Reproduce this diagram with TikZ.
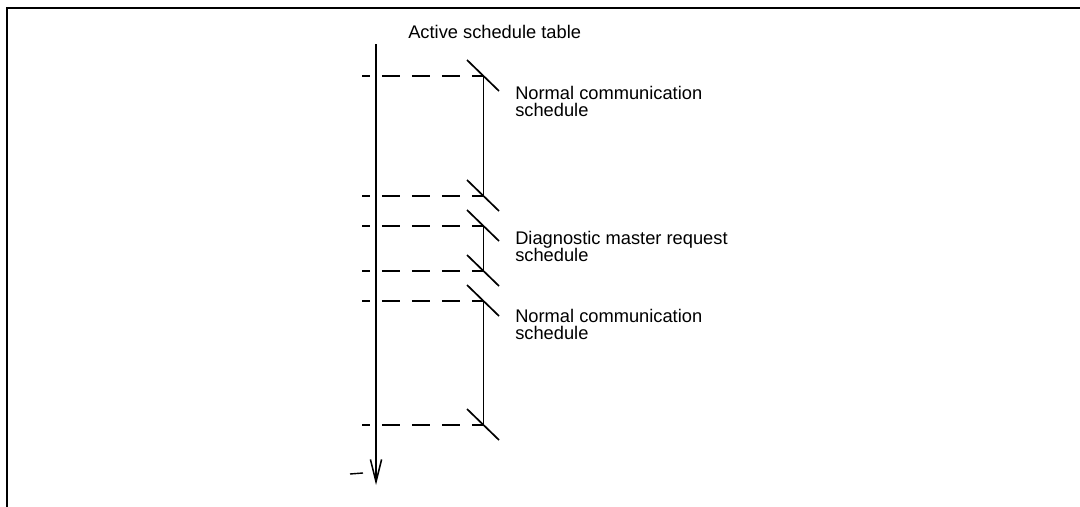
\documentclass[tikz,border=0pt]{standalone}
\usepackage{fontspec}
\setmainfont{Liberation Sans}
\usetikzlibrary{arrows.meta}

\begin{document}
\begin{tikzpicture}[x=0.025cm,y=-0.025cm,
  lbl/.style={align=left,inner sep=0pt,anchor=north west,font=\fontsize{13}{12.2}\selectfont},
  guide/.style={line width=1pt,dash pattern=on 12.8pt off 8.5pt,dash phase=7.1pt},
  slash/.style={line width=1.2pt}]
  \useasboundingbox (0,0) rectangle (1080,507);

  % frame
  \coordinate (fl) at (7,507);
  \coordinate (fc) at (7,8);
  \coordinate (fr) at (1080,8);
  \draw[line width=1.3pt] (fl)--(fc)--(fr);

  % time axis
  \coordinate (top) at (376,44);
  \coordinate (tip) at (376,485);
  \draw[line width=1.1pt,-{Straight Barb[length=0.56cm,width=0.28cm]}] (top)--(tip);
  \node[lbl] (title) at (408,25) {Active schedule table};
  \coordinate (m1) at (350,474);
  \coordinate (m2) at (363,473);
  \draw[line width=1pt] (m1)--(m2);

  % schedule brackets
  \foreach \ya/\yb/\nm in {76/196/a, 226/271/b, 301/425/c}{
    \coordinate (\nm1) at (483,\ya);
    \coordinate (\nm2) at (483,\yb);
    \draw[line width=0.6pt] (\nm1)--(\nm2);
  }
  \foreach \y in {76,196,226,271,301,425}{
    \coordinate (d\y) at (362,\y);
    \coordinate (s\y) at (483,\y);
    \draw[guide] (d\y)--(s\y);
    \draw[slash] ([shift={(-16,-16)}]s\y)--([shift={(16,15)}]s\y);
  }

  \node[lbl] (norm1) at (515,86) {Normal communication\\schedule};
  \node[lbl] (diag) at (515,231) {Diagnostic master request\\schedule};
  \node[lbl] (norm2) at (515,309) {Normal communication\\schedule};
\end{tikzpicture}
\end{document}
